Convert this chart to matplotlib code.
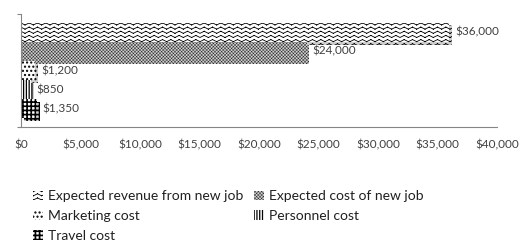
import warnings

import matplotlib
matplotlib.use("Agg")
import matplotlib.hatch as mhatch
import matplotlib.patheffects as pe
import matplotlib.pyplot as plt
import matplotlib.transforms as mtransforms
import numpy as np
from matplotlib.path import Path
from matplotlib.ticker import FuncFormatter

warnings.filterwarnings("ignore")

# data
labels = ["Expected revenue from new job", "Expected cost of new job",
          "Marketing cost", "Personnel cost", "Travel cost"]
values = [36000, 24000, 1200, 850, 1350]
hatches = ["zzzz", "xxxxxxxxxx", "....", "||||||", "++++"]
faces = ["white", "#d0d0d0", "white", "white", "white"]
hatch_colors = ["black", "#303030", "black", "black", "black"]
hatch_widths = [0.6, 0.35, 1.0, 0.9, 1.2]
x_ticks = [0, 5000, 10000, 15000, 20000, 25000, 30000, 35000, 40000]


# zigzag hatch (Excel "zig zag" pattern), not available in matplotlib.
# drawn as separate segments so Agg does not fill the area under the zigzag
class ZigZagHatch(mhatch.HatchPatternBase):
    def __init__(self, hatch, density):
        self.num_rows = int(hatch.count('z') * density)
        self.segs = 24
        self.num_vertices = self.num_rows * self.segs * 2 if self.num_rows else 0

    def set_vertices_and_codes(self, vertices, codes):
        rows, step = np.linspace(0.0, 1.0, self.num_rows, False, retstep=True)
        xs = np.linspace(0.0, 1.0, self.segs + 1)
        ys = np.where(np.arange(self.segs + 1) % 2, step * 0.5, 0.0)
        n = self.segs * 2
        for i, y0 in enumerate(rows):
            sl = slice(i * n, (i + 1) * n)
            vertices[sl][0::2, 0] = xs[:-1]
            vertices[sl][0::2, 1] = y0 + ys[:-1]
            vertices[sl][1::2, 0] = xs[1:]
            vertices[sl][1::2, 1] = y0 + ys[1:]
            codes[sl][0::2] = Path.MOVETO
            codes[sl][1::2] = Path.LINETO


mhatch._hatch_types.append(ZigZagHatch)


def set_hatch_lw(patch, lw):
    # per-patch hatch line width, works on old and new matplotlib
    if hasattr(patch, 'set_hatch_linewidth'):
        patch.set_hatch_linewidth(lw)
    orig = patch.draw

    def draw(renderer):
        with plt.rc_context({'hatch.linewidth': lw}):
            orig(renderer)
    patch.draw = draw


plt.rcParams['font.family'] = ['Lato', 'DejaVu Sans']

fig = plt.figure(figsize=(5.27, 2.49), dpi=100)
ax = fig.add_axes([0.040, 0.49, 0.903, 0.454])

ypos = np.arange(len(values))[::-1]
handles = []
shift = mtransforms.ScaledTranslation(4 / 72, 0, fig.dpi_scale_trans)
for y, v, lab, h, fc, hc, hw in zip(ypos, values, labels, hatches, faces, hatch_colors, hatch_widths):
    b = ax.barh(y, v, height=1.0, color=fc, edgecolor=hc,
                linewidth=0, hatch=h, label=lab)
    b[0].set_path_effects([pe.SimplePatchShadow(offset=(2, -2), shadow_rgbFace='#b0b0b0', alpha=0.6),
                           pe.Normal()])
    set_hatch_lw(b[0], hw)
    handles.append(b)
    ax.text(v, y, "${:,.0f}".format(v), va='center', ha='left', fontsize=8.5,
            color='#404040', transform=ax.transData + shift)

ax.set_xlim(0, 40000)
ax.set_ylim(-0.95, 4.95)
ax.set_xticks(x_ticks)
ax.xaxis.set_major_formatter(FuncFormatter(lambda v, p: "${:,.0f}".format(v)))
ax.tick_params(axis='x', length=0, pad=9, labelsize=8.5, labelcolor='#404040')
ax.set_yticks([-0.95, 4.95])
ax.set_yticklabels([])
ax.tick_params(axis='y', length=3, color='#868686')
for s in ['top', 'right']:
    ax.spines[s].set_visible(False)
for s in ['left', 'bottom']:
    ax.spines[s].set_color('#868686')
    ax.spines[s].set_linewidth(0.8)

# legend filled row by row like Excel
order = [0, 2, 4, 1, 3]
leg = fig.legend([handles[i] for i in order], [labels[i] for i in order],
                 loc='upper left', bbox_to_anchor=(0.063, 0.235), ncol=2, frameon=False,
                 fontsize=10, labelcolor='#202020', handlelength=0.7, handleheight=0.7,
                 handletextpad=0.35, columnspacing=0.8, labelspacing=0.55,
                 borderaxespad=0, borderpad=0)
for hp, i in zip(leg.legend_handles, order):
    hp.set_path_effects([])
    set_hatch_lw(hp, hatch_widths[i])

fig.savefig("out.png", dpi=100)
